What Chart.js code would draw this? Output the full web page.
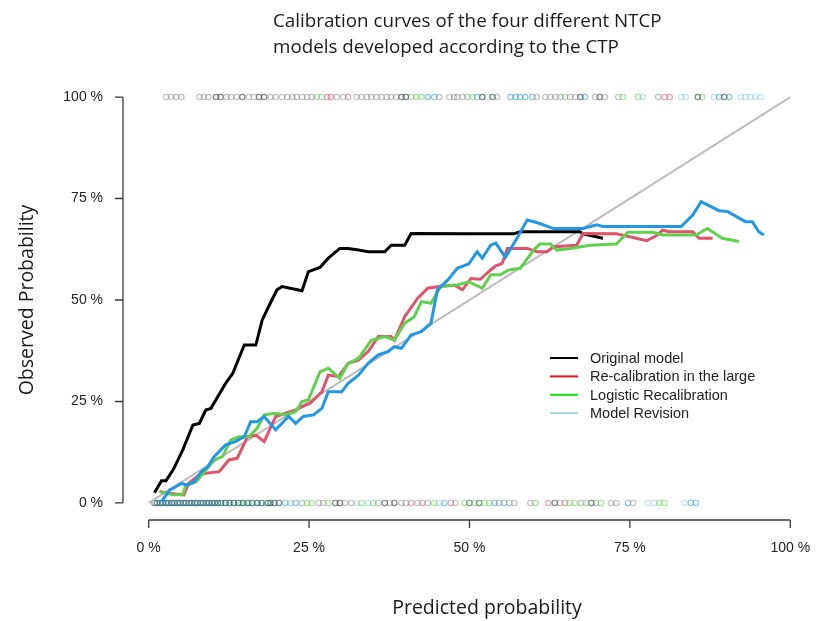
<!DOCTYPE html>
<html>
<head>
<meta charset="utf-8">
<script src="https://cdn.jsdelivr.net/npm/chart.js@4.4.1/dist/chart.umd.min.js"></script>
<style>
  html, body { margin: 0; padding: 0; background: #fff; }
  #wrap { width: 816px; height: 621px; }
</style>
</head>
<body>
<div id="wrap"><canvas id="calChart" width="816" height="621"></canvas></div>
<script>
// tick positions (percent)
const xTicks = [0, 25, 50, 75, 100];
const yTicks = [0, 25, 50, 75, 100];

// Original model
const originalX = [0.9, 2.0, 2.7, 3.8, 5.3, 6.9, 7.9, 8.9, 9.7, 12.0, 13.1, 14.9, 16.7, 17.7, 18.7, 20.0, 20.8, 23.9, 24.9, 26.7, 28.0, 29.8, 31.1, 32.7, 34.2, 36.8, 37.8, 39.9, 40.9, 49.7, 56.9, 57.9, 67.2, 67.7, 70.8];
const originalY = [2.5, 5.5, 5.5, 8.1, 13.0, 19.2, 19.6, 22.9, 23.3, 29.5, 31.9, 38.9, 38.9, 45.1, 48.4, 52.5, 53.3, 52.3, 57.0, 58.0, 60.3, 62.7, 62.7, 62.3, 61.9, 61.9, 63.5, 63.5, 66.4, 66.3, 66.3, 66.8, 66.8, 66.3, 65.2];

// Re-calibration in the large
const recalX = [1.7, 3.0, 5.5, 6.2, 7.9, 8.9, 11.0, 12.5, 13.8, 15.4, 16.7, 18.0, 19.8, 22.9, 23.9, 25.2, 27.0, 28.0, 29.6, 31.1, 32.7, 34.2, 35.8, 37.8, 38.3, 39.9, 41.9, 43.5, 45.5, 47.6, 48.9, 50.2, 51.7, 53.3, 54.1, 55.1, 55.9, 59.0, 60.5, 62.1, 63.1, 66.7, 67.7, 72.9, 76.0, 77.6, 79.1, 80.1, 81.1, 84.8, 85.8, 87.9];
const recalY = [2.8, 2.4, 2.0, 4.8, 6.9, 7.3, 7.7, 10.6, 11.0, 16.3, 16.7, 15.1, 21.3, 22.9, 23.7, 24.6, 27.4, 31.5, 31.1, 34.4, 35.2, 37.3, 41.0, 41.0, 40.1, 45.9, 50.4, 52.9, 53.4, 53.7, 52.5, 55.3, 55.1, 57.4, 58.4, 59.0, 62.7, 62.7, 61.9, 61.9, 63.1, 63.5, 66.4, 66.3, 65.2, 64.6, 65.8, 67.2, 66.8, 66.8, 65.2, 65.2];

// Logistic recalibration
const logisticX = [1.7, 3.8, 5.3, 5.8, 7.4, 8.7, 10.2, 11.5, 12.8, 14.1, 15.6, 16.9, 18.0, 19.8, 21.3, 22.9, 23.9, 24.9, 26.7, 28.0, 29.8, 31.1, 32.7, 34.7, 36.8, 38.3, 39.9, 41.4, 42.5, 44.0, 45.5, 48.1, 49.9, 52.0, 53.3, 54.8, 56.1, 57.9, 60.0, 61.0, 62.6, 63.6, 65.7, 68.8, 72.9, 74.7, 78.6, 80.1, 85.3, 87.1, 89.4, 92.0];
const logisticY = [2.8, 2.0, 2.0, 4.4, 5.2, 7.7, 10.6, 11.4, 15.5, 16.3, 16.3, 18.4, 21.7, 22.1, 21.7, 22.5, 25.0, 25.4, 32.3, 33.2, 30.7, 34.4, 35.6, 40.1, 41.0, 40.1, 44.3, 45.9, 49.6, 49.2, 53.3, 53.7, 54.5, 52.9, 56.2, 56.2, 57.4, 57.8, 62.3, 63.8, 63.8, 62.3, 62.7, 63.5, 63.8, 66.7, 66.7, 66.0, 66.0, 67.6, 65.2, 64.4];

// Model revision
const revisionX = [2.0, 3.3, 5.1, 6.1, 7.1, 8.2, 9.2, 10.2, 12.0, 13.5, 14.9, 15.9, 16.9, 18.0, 19.8, 21.8, 22.9, 24.1, 25.7, 27.0, 28.0, 30.1, 31.1, 32.7, 34.2, 35.8, 37.3, 38.3, 39.4, 40.9, 42.5, 44.0, 45.0, 46.6, 48.1, 49.9, 51.2, 52.0, 53.3, 54.1, 55.6, 57.4, 59.0, 60.5, 63.1, 67.7, 69.8, 70.8, 83.0, 84.8, 86.1, 88.9, 90.2, 93.0, 94.1, 95.1, 95.9];
const revisionY = [0.3, 3.2, 4.8, 4.4, 5.2, 7.7, 8.9, 11.4, 14.3, 15.1, 16.3, 20.0, 20.0, 21.3, 18.0, 21.3, 19.6, 21.3, 21.7, 23.3, 27.4, 27.4, 29.5, 31.5, 34.4, 36.5, 37.3, 38.5, 38.1, 41.4, 42.2, 44.3, 52.5, 54.9, 57.8, 58.9, 61.9, 60.3, 63.5, 64.0, 60.5, 65.2, 69.7, 69.1, 67.6, 67.6, 68.5, 68.1, 68.1, 70.9, 74.2, 72.0, 71.8, 69.3, 69.3, 66.8, 66.0];

// perfect calibration reference
const idealX = [0, 100];
const idealY = [0, 100];

// rug of observed events (top) and non-events (bottom), predicted %
const topGrey = [2.7, 3.5, 4.3, 5.1, 7.9, 8.6, 9.3, 12.1, 12.9, 13.7, 15.6, 16.4, 19.0, 19.8, 20.8, 21.6, 22.4, 23.1, 23.9, 24.7, 25.4, 29.3, 30.3, 32.4, 33.2, 34.0, 34.7, 35.5, 36.3, 37.1, 37.8, 38.6, 45.3, 46.9, 47.6, 48.1, 48.9, 49.7, 54.3, 60.5, 61.8, 62.6, 63.4, 64.2, 65.7, 66.5, 69.6, 71.1, 73.2, 79.4];
const topDark = [10.5, 11.2, 14.6, 17.2, 18.0, 39.4, 40.1, 52.0, 53.6, 67.3, 70.3, 85.6, 89.7];
const topGreen = [26.2, 27.0, 40.9, 41.7, 42.5, 50.5, 64.9, 73.9, 76.3, 86.3];
const topRed = [27.8, 28.4, 31.1, 80.4, 81.2];
const topBlue = [43.5, 44.5, 51.2, 56.4, 57.2, 57.9, 58.7, 59.8, 68.0, 88.9, 90.5];
const topSky = [52.8, 77.0, 83.0, 83.7, 88.1, 92.3, 93.0, 93.8, 94.6, 95.4];

const bottomTeal = [0.9, 1.3, 1.8, 2.2, 2.7, 3.1, 3.6, 4.0, 4.5, 4.9, 5.4, 5.8, 6.3, 6.7, 7.2, 7.6, 8.1, 8.5, 9.0, 9.4, 9.9, 10.3, 10.8, 11.3, 12.0, 12.6, 13.3, 14.0, 14.7, 15.4, 16.1, 16.9, 17.6, 18.6, 19.6];
const bottomGreen = [11.9, 13.2, 14.4, 15.7, 17.0, 18.3, 24.7, 25.4, 28.0, 33.2, 35.0, 44.5, 49.2, 50.8, 52.3, 53.1, 60.3, 65.6, 66.4, 68.2, 70.5, 79.6, 80.4];
const bottomDark = [19.0, 20.3, 29.1, 29.8, 36.8, 38.3, 50.0, 51.5, 63.3, 69.0];
const bottomGrey = [23.9, 26.5, 27.2, 30.6, 31.6, 35.8, 37.6, 39.4, 40.1, 41.9, 43.5, 47.8, 54.6, 56.2, 57.0, 59.5, 64.1, 67.4, 69.7, 72.1, 72.9, 75.5];
const bottomRed = [40.9, 42.7, 47.1, 62.3, 64.9];
const bottomBlue = [21.3, 22.9, 46.1, 53.9, 55.4, 74.7, 84.5, 85.3];
const bottomSky = [22.1, 32.4, 34.2, 45.3, 77.8, 78.8, 83.5];

const legendItems = [
  { label: "Original model", color: "#000000" },
  { label: "Re-calibration in the large", color: "#e8101a" },
  { label: "Logistic Recalibration", color: "#10dd10" },
  { label: "Model Revision", color: "#a6d4dc" },
];

const toPoints = (xs, ys) => xs.map((x, i) => ({ x: x, y: ys[i] }));

const curve = (label, xs, ys, color, order) => ({
  label: label,
  data: toPoints(xs, ys),
  borderColor: color,
  borderWidth: 3,
  pointRadius: 0,
  tension: 0,
  fill: false,
  order: order,
});

const rug = (xs, level, color) => ({
  data: xs.map(x => ({ x: x, y: level })),
  showLine: false,
  pointStyle: "circle",
  pointRadius: 2.7,
  pointBorderWidth: 1.2,
  pointBackgroundColor: "rgba(0,0,0,0)",
  pointBorderColor: color,
  order: 10,
});

const rugColors = {
  grey: "rgba(120,120,120,0.45)",
  dark: "rgba(60,72,72,0.65)",
  teal: "rgba(40,100,120,0.7)",
  green: "rgba(97,208,79,0.55)",
  red: "rgba(223,83,107,0.55)",
  blue: "rgba(34,151,230,0.55)",
  sky: "rgba(140,200,235,0.55)",
};

// R-style detached axes, titles and legend
const frame = {
  id: "frame",
  afterDraw(chart) {
    const { ctx, chartArea, scales: { x, y } } = chart;
    ctx.save();
    ctx.strokeStyle = "#3a3a3a";
    ctx.lineWidth = 1.3;
    ctx.beginPath();
    const left = chartArea.left;
    ctx.moveTo(left, y.getPixelForValue(yTicks[0]));
    ctx.lineTo(left, y.getPixelForValue(yTicks[yTicks.length - 1]));
    yTicks.forEach(v => {
      const py = y.getPixelForValue(v);
      ctx.moveTo(left, py);
      ctx.lineTo(left - 8, py);
    });
    const bottom = chartArea.bottom;
    ctx.moveTo(x.getPixelForValue(xTicks[0]), bottom);
    ctx.lineTo(x.getPixelForValue(xTicks[xTicks.length - 1]), bottom);
    xTicks.forEach(v => {
      const px = x.getPixelForValue(v);
      ctx.moveTo(px, bottom);
      ctx.lineTo(px, bottom + 8);
    });
    ctx.stroke();

    // title
    ctx.fillStyle = "#1a1a1a";
    ctx.font = "18.8px 'Open Sans'";
    ctx.textAlign = "left";
    ctx.textBaseline = "middle";
    ctx.fillText("Calibration curves of the four different NTCP", 273, 22);
    ctx.fillText("models developed according to the CTP", 273, 48);

    // axis titles
    ctx.font = "19.5px 'Open Sans'";
    ctx.textAlign = "center";
    ctx.fillText("Predicted probability", 487, 608);
    ctx.translate(27, 300);
    ctx.rotate(-Math.PI / 2);
    ctx.fillText("Observed Probability", 0, 0);
    ctx.setTransform(1, 0, 0, 1, 0, 0);

    // legend
    ctx.font = "14.5px 'Liberation Sans'";
    ctx.textAlign = "left";
    legendItems.forEach((item, i) => {
      const ly = 358 + i * 18.4;
      ctx.strokeStyle = item.color;
      ctx.lineWidth = 2;
      ctx.beginPath();
      ctx.moveTo(550, ly);
      ctx.lineTo(578, ly);
      ctx.stroke();
      ctx.fillStyle = "#222";
      ctx.fillText(item.label, 590, ly + 1);
    });
    ctx.restore();
  },
};

const noPadding = scale => {
  scale.paddingLeft = 0;
  scale.paddingRight = 0;
  scale.paddingTop = 0;
  scale.paddingBottom = 0;
};

const tickFont = { family: "'Liberation Sans', Arial, sans-serif", size: 14 };

new Chart(document.getElementById("calChart").getContext("2d"), {
  type: "line",
  data: {
    datasets: [
      curve("Original model", originalX, originalY, "#000000", 4),
      curve("Re-calibration in the large", recalX, recalY, "#DF536B", 3),
      curve("Logistic Recalibration", logisticX, logisticY, "#61D04F", 2),
      curve("Model Revision", revisionX, revisionY, "#2297E6", 1),
      {
        data: toPoints(idealX, idealY),
        borderColor: "#bdbdbd",
        borderWidth: 2,
        pointRadius: 0,
        order: 5,
      },
      rug(topGrey, 100, rugColors.grey),
      rug(topDark, 100, rugColors.dark),
      rug(topGreen, 100, rugColors.green),
      rug(topRed, 100, rugColors.red),
      rug(topBlue, 100, rugColors.blue),
      rug(topSky, 100, rugColors.sky),
      rug(bottomTeal, 0, rugColors.teal),
      rug(bottomGreen, 0, rugColors.green),
      rug(bottomDark, 0, rugColors.dark),
      rug(bottomGrey, 0, rugColors.grey),
      rug(bottomRed, 0, rugColors.red),
      rug(bottomBlue, 0, rugColors.blue),
      rug(bottomSky, 0, rugColors.sky),
    ],
  },
  options: {
    responsive: false,
    devicePixelRatio: 1,
    animation: false,
    layout: { padding: { left: 0, right: 0, top: 80, bottom: 0 } },
    plugins: {
      legend: { display: false },
      tooltip: { enabled: false },
    },
    scales: {
      x: {
        type: "linear",
        min: -4,
        max: 103.2,
        afterBuildTicks: scale => {
          scale.ticks = xTicks.map(v => ({ value: v }));
        },
        afterFit: scale => {
          scale.height = 101;
          noPadding(scale);
        },
        ticks: {
          autoSkip: false,
          maxRotation: 0,
          padding: 20,
          color: "#222",
          font: tickFont,
          callback: v => v + " %",
        },
        grid: { display: false, drawTicks: false },
        border: { display: false },
      },
      y: {
        type: "linear",
        min: -4.2,
        max: 104.2,
        afterBuildTicks: scale => {
          scale.ticks = yTicks.map(v => ({ value: v }));
        },
        afterFit: scale => {
          scale.width = 123;
          noPadding(scale);
        },
        ticks: {
          autoSkip: false,
          padding: 20,
          color: "#222",
          font: tickFont,
          callback: v => v + " %",
        },
        grid: { display: false, drawTicks: false },
        border: { display: false },
      },
    },
  },
  plugins: [frame],
});
</script>
</body>
</html>
